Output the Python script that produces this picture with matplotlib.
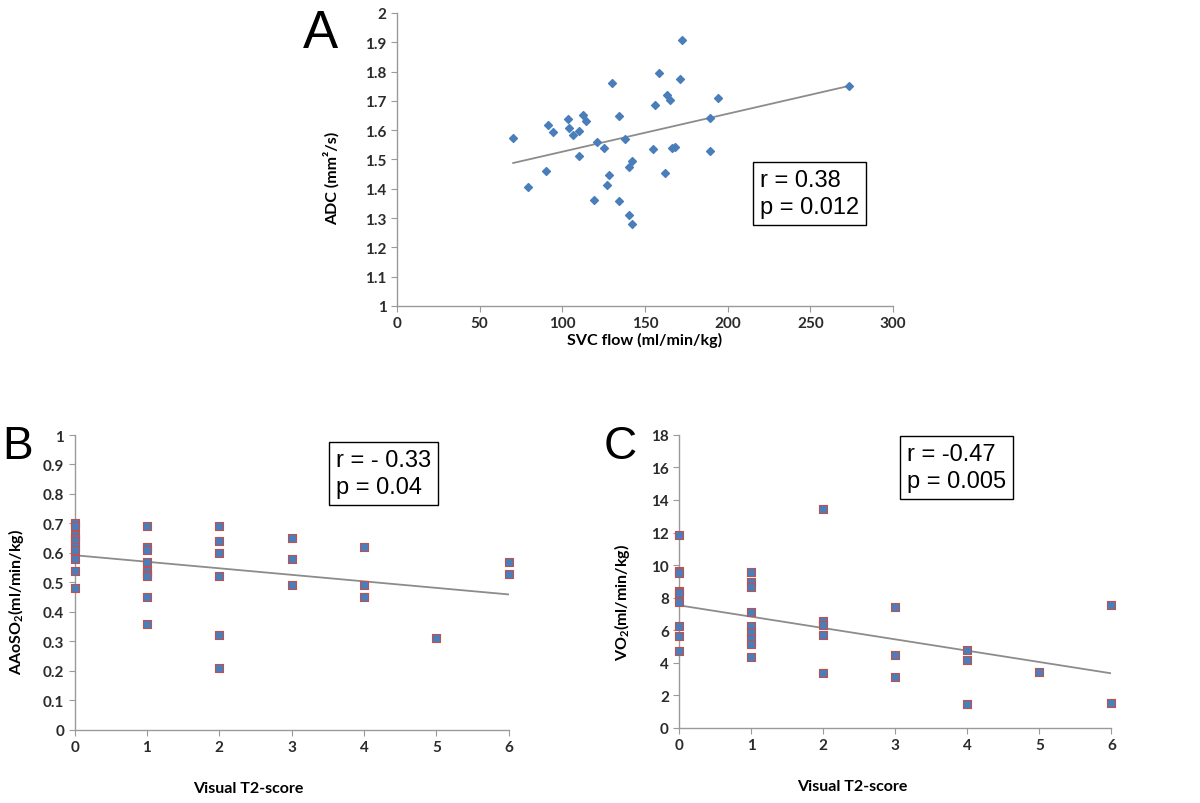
import matplotlib
matplotlib.use("Agg")
import matplotlib.pyplot as plt
import numpy as np

# Panel A: SVC flow vs ADC
svc_flow = [70.3, 79.1, 90.0, 91.3, 94.1, 103.2, 104.2, 106.2, 110.2, 110.2,
            112.3, 114.3, 119.3, 121.1, 125.2, 127.2, 128.2, 130.2, 134.3, 134.3,
            138.1, 140.1, 140.1, 142.1, 142.1, 155.1, 156.3, 158.3, 162.1, 163.1,
            165.2, 166.2, 168.2, 171.2, 172.2, 189.2, 189.2, 194.2, 273.4]
adc = [1.574, 1.407, 1.462, 1.617, 1.594, 1.637, 1.608, 1.583, 1.511, 1.597,
       1.653, 1.630, 1.361, 1.560, 1.539, 1.413, 1.447, 1.762, 1.649, 1.357,
       1.570, 1.309, 1.475, 1.494, 1.280, 1.536, 1.686, 1.795, 1.455, 1.721,
       1.702, 1.539, 1.543, 1.775, 1.909, 1.643, 1.530, 1.709, 1.751]
trend_a_x = [70.3, 273.4]
trend_a_y = [1.488, 1.751]

# Panel B: visual T2-score vs AAoSO2
t2_b = [0, 0, 0, 0, 0, 0, 0, 0, 0, 0,
        1, 1, 1, 1, 1, 1, 1, 1, 1,
        2, 2, 2, 2, 2, 2,
        3, 3, 3,
        4, 4, 4,
        5,
        6, 6]
aaoso2 = [0.70, 0.69, 0.66, 0.65, 0.64, 0.62, 0.61, 0.58, 0.54, 0.48,
          0.69, 0.62, 0.61, 0.57, 0.54, 0.53, 0.52, 0.45, 0.36,
          0.69, 0.64, 0.60, 0.52, 0.32, 0.21,
          0.65, 0.58, 0.49,
          0.62, 0.49, 0.45,
          0.31,
          0.57, 0.53]
trend_b_x = [0, 6]
trend_b_y = [0.592, 0.459]

# Panel C: visual T2-score vs VO2
t2_c = [0, 0, 0, 0, 0, 0, 0, 0, 0,
        1, 1, 1, 1, 1, 1, 1, 1, 1,
        2, 2, 2, 2, 2,
        3, 3, 3,
        4, 4, 4,
        5,
        6, 6]
vo2 = [11.82, 9.65, 9.50, 8.42, 8.26, 7.70, 6.27, 5.66, 4.69,
       9.59, 8.98, 8.63, 7.09, 6.27, 5.86, 5.45, 5.14, 4.36,
       13.44, 6.58, 6.33, 5.70, 3.34,
       7.44, 4.47, 3.09,
       4.75, 4.16, 1.45,
       3.44,
       7.54, 1.52]
trend_c_x = [0, 6]
trend_c_y = [7.52, 3.34]

BLUE = "#4a7ebb"
EDGE_RED = "#c0504d"
TREND = "#8c8c8c"
AXIS = "#9a9a9a"
TICK_TXT = "#2b2b2b"
BOX_FONT = ["Liberation Sans", "DejaVu Sans"]

plt.rcParams.update({"font.family": ["Lato", "DejaVu Sans"],
                     "mathtext.default": "regular"})

fig = plt.figure(figsize=(12, 8.04), dpi=100)


def style_axes(ax):
    for s in ("top", "right"):
        ax.spines[s].set_visible(False)
    for s in ("left", "bottom"):
        ax.spines[s].set_color(AXIS)
        ax.spines[s].set_linewidth(1.0)
    ax.tick_params(direction="out", length=4, color=AXIS, labelsize=11,
                   labelcolor=TICK_TXT)
    for lab in ax.get_xticklabels() + ax.get_yticklabels():
        lab.set_fontweight("bold")


def stat_box(ax, x, y, txt):
    ax.text(x, y, txt, transform=ax.transAxes, ha="left", va="top",
            fontsize=17, family=BOX_FONT, linespacing=1.3,
            bbox=dict(boxstyle="square,pad=0.3", fc="white", ec="black", lw=1))


# ---- A ----
axA = fig.add_axes([0.3308, 0.6182, 0.4133, 0.3644])
axA.scatter(svc_flow, adc, marker="D", s=16, color=BLUE, zorder=3, clip_on=False)
axA.plot(trend_a_x, trend_a_y, color=TREND, lw=1.3, zorder=2)
axA.set_xlim(0, 300)
axA.set_ylim(1, 2)
axA.set_xticks(np.arange(0, 301, 50))
yt = np.round(np.arange(1, 2.01, 0.1), 1)
axA.set_yticks(yt)
axA.set_yticklabels([f"{v:g}" for v in yt])
style_axes(axA)
axA.set_xlabel("SVC flow (ml/min/kg)", fontsize=11.5, fontweight="bold")
axA.xaxis.set_label_coords(0.5, -0.089)
axA.set_ylabel("ADC (mm²/s)", fontsize=11.5, fontweight="bold")
axA.yaxis.set_label_coords(-0.115, 0.44)
stat_box(axA, 0.732, 0.468, "r = 0.38\np = 0.012")
fig.text(0.252, 0.94, "A", fontsize=38, family=BOX_FONT, ha="left", va="baseline")

# ---- B ----
axB = fig.add_axes([0.0622, 0.0912, 0.3617, 0.3665])
axB.scatter(t2_b, aaoso2, marker="s", s=28, color=BLUE, edgecolor=EDGE_RED,
            linewidth=0.8, zorder=3, clip_on=False)
axB.plot(trend_b_x, trend_b_y, color=TREND, lw=1.3, zorder=2)
axB.set_xlim(0, 6)
axB.set_ylim(0, 1)
axB.set_xticks(range(7))
yt = np.round(np.arange(0, 1.01, 0.1), 1)
axB.set_yticks(yt)
axB.set_yticklabels([f"{v:g}" for v in yt])
style_axes(axB)
axB.set_xlabel("Visual T2-score", fontsize=11.5, fontweight="bold")
axB.xaxis.set_label_coords(0.4, -0.174)
axB.set_ylabel("AAoSO$_2$(ml/min/kg)", fontsize=11.5, fontweight="bold")
axB.yaxis.set_label_coords(-0.112, 0.437)
stat_box(axB, 0.602, 0.9525, "r = - 0.33\np = 0.04")
fig.text(0.002, 0.429, "B", fontsize=33, family=BOX_FONT, ha="left", va="baseline")

# ---- C ----
axC = fig.add_axes([0.5661, 0.0937, 0.36, 0.3641])
axC.scatter(t2_c, vo2, marker="s", s=28, color=BLUE, edgecolor=EDGE_RED,
            linewidth=0.8, zorder=3, clip_on=False)
axC.plot(trend_c_x, trend_c_y, color=TREND, lw=1.3, zorder=2)
axC.set_xlim(0, 6)
axC.set_ylim(0, 18)
axC.set_xticks(range(7))
axC.set_yticks(range(0, 19, 2))
style_axes(axC)
axC.set_xlabel("Visual T2-score", fontsize=11.5, fontweight="bold")
axC.xaxis.set_label_coords(0.4, -0.175)
axC.set_ylabel("VO$_2$(ml/min/kg)", fontsize=11.5, fontweight="bold")
axC.yaxis.set_label_coords(-0.109, 0.43)
stat_box(axC, 0.527, 0.9727, "r = -0.47\np = 0.005")
fig.text(0.503, 0.429, "C", fontsize=33, family=BOX_FONT, ha="left", va="baseline")

fig.savefig("out.png", dpi=100, facecolor="white")
